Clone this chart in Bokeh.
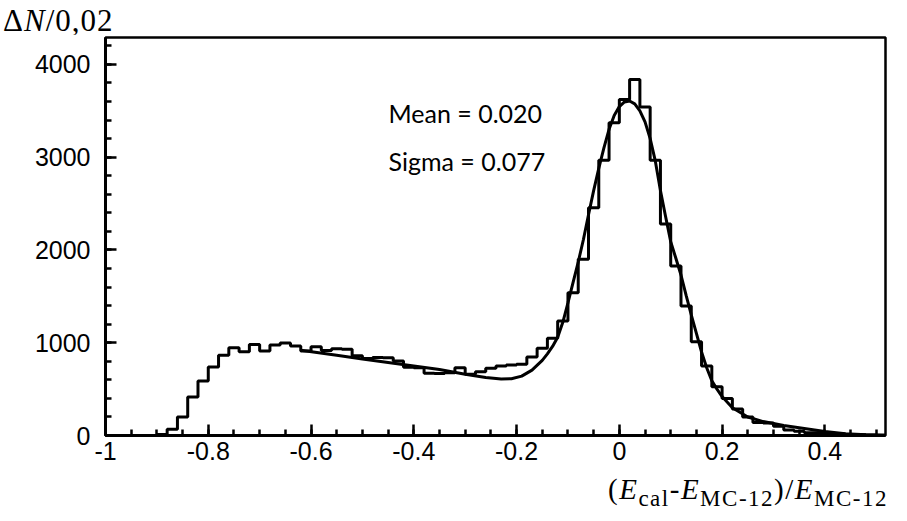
from bokeh.plotting import figure
from bokeh.models import Label, FixedTicker, Range1d, Div
from bokeh.layouts import column
from bokeh.embed import file_html
from bokeh.resources import INLINE

# ---------------- data ----------------
bin_start = -0.90
bin_width = 0.02
counts = [12, 67, 199, 415, 587, 738, 864, 946, 903, 982,
          910, 975, 997, 966, 912, 957, 915, 935, 930, 860,
          830, 842, 838, 803, 735, 730, 670, 668, 677, 731,
          660, 688, 724, 749, 760, 767, 846, 940, 1047, 1234,
          1540, 1900, 2455, 2966, 3371, 3623, 3838, 3540, 2966, 2279,
          1826, 1395, 1010, 749, 525, 400, 285, 200, 140, 135,
          100, 60, 45, 30, 30, 20, 15, 10, 8, 5, 3]

fit_x = [-0.62, -0.55, -0.50, -0.45, -0.40, -0.35, -0.30, -0.26, -0.23, -0.21,
         -0.19, -0.17, -0.15, -0.14, -0.13, -0.12, -0.11, -0.10, -0.09, -0.08,
         -0.07, -0.06, -0.05, -0.04, -0.03, -0.02, -0.01, 0.00, 0.01, 0.02,
         0.03, 0.04, 0.05, 0.06, 0.07, 0.08, 0.09, 0.10, 0.11, 0.12,
         0.13, 0.14, 0.15, 0.16, 0.17, 0.18, 0.19, 0.20, 0.22, 0.25,
         0.28, 0.32, 0.36, 0.40, 0.44, 0.48, 0.518]
fit_y = [920, 865, 825, 788, 750, 712, 660, 625, 610, 612,
         640, 705, 810, 880, 960, 1060, 1220, 1430, 1650, 1870,
         2110, 2380, 2640, 2880, 3100, 3300, 3450, 3545, 3595, 3605,
         3575, 3500, 3380, 3200, 2960, 2640, 2360, 2090, 1910, 1730,
         1510, 1300, 1100, 900, 730, 590, 500, 420, 300, 200,
         150, 108, 75, 42, 18, 8, 4]

x_major = [-1.0, -0.8, -0.6, -0.4, -0.2, 0.0, 0.2, 0.4]
x_major_labels = ["-1", "-0.8", "-0.6", "-0.4", "-0.2", "0", "0.2", "0.4"]
x_minor = [-1.0, -0.95, -0.9, -0.85, -0.8, -0.75, -0.7, -0.65, -0.6, -0.55, -0.5,
           -0.45, -0.4, -0.35, -0.3, -0.25, -0.2, -0.15, -0.1, -0.05, 0.0,
           0.05, 0.1, 0.15, 0.2, 0.25, 0.3, 0.35, 0.4, 0.45, 0.5]
y_major = [0, 1000, 2000, 3000, 4000]
y_minor = [0, 200, 400, 600, 800, 1000, 1200, 1400, 1600, 1800, 2000, 2200, 2400,
           2600, 2800, 3000, 3200, 3400, 3600, 3800, 4000, 4200]

stat_lines = ["Mean = 0.020", "Sigma = 0.077"]

# ---------------- layout ----------------
W, H = 907, 521
TOP_H = 34          # header strip holding the y title
BOT_H = 46          # footer strip holding the x title
FIG_H = H - TOP_H - BOT_H
FL, FR = 105, 885   # frame left/right (page px)
FT, FB = 37, 435    # frame top/bottom (page px)
X0, X1 = -1.0, 0.518
Y0, Y1 = 0, 4290


def dx(px):
    return X0 + (px - FL) * (X1 - X0) / (FR - FL)


def dy(py):
    return Y0 + (FB - py) * (Y1 - Y0) / (FB - FT)


p = figure(width=W, height=FIG_H, output_backend="svg", toolbar_location=None,
           x_range=Range1d(X0, X1), y_range=Range1d(Y0, Y1),
           min_border_left=FL, min_border_right=W - FR,
           min_border_top=FT - TOP_H, min_border_bottom=TOP_H + FIG_H - FB,
           margin=(0, 0, 0, 0))
p.background_fill_color = "white"
p.border_fill_color = "white"
p.outline_line_color = "black"
p.outline_line_width = 2.5
p.xgrid.visible = False
p.ygrid.visible = False

# axes
for ax in (p.xaxis[0], p.yaxis[0]):
    ax.axis_line_width = 3
    ax.axis_line_color = "black"
    ax.major_tick_line_width = 2.5
    ax.minor_tick_line_width = 2.5
    ax.major_tick_line_color = "black"
    ax.minor_tick_line_color = "black"
    ax.major_tick_in = 11
    ax.major_tick_out = 0
    ax.minor_tick_in = 6
    ax.minor_tick_out = 0
    ax.major_label_text_font = "Liberation Sans"
    ax.major_label_text_font_size = "25px"
    ax.major_label_text_color = "black"

p.xaxis[0].ticker = FixedTicker(ticks=x_major, minor_ticks=x_minor)
p.xaxis[0].major_label_overrides = {v: s for v, s in zip(x_major, x_major_labels)}
p.xaxis[0].major_label_standoff = 6
p.yaxis[0].ticker = FixedTicker(ticks=y_major, minor_ticks=y_minor)
p.yaxis[0].major_label_overrides = {v: str(v) for v in y_major}
p.yaxis[0].major_label_standoff = 15

# histogram as step outline
edges = [round(bin_start + i * bin_width, 4) for i in range(len(counts) + 1)]
hx = [edges[0]] + edges
hy = [0] + counts + [0]
p.step(hx, hy, mode="after", line_color="black", line_width=3)

# fit curve
p.line(fit_x, fit_y, line_color="black", line_width=3)

# statistics text inside the frame
for txt, base in zip(stat_lines, [112, 160]):
    p.add_layout(Label(x=dx(388), y=dy(base), text=txt, text_font="Lato",
                       text_font_size="25px", text_color="black",
                       text_baseline="alphabetic", text_align="left"))

# ---------------- axis titles (rich text) ----------------
serif = "Liberation Serif, Times New Roman, serif"
top_html = (
    f'<div style="padding-left:3px; padding-top:5px; font-family:{serif}; '
    f'font-size:31px; line-height:1; letter-spacing:1px; white-space:nowrap; color:black">'
    'Δ<i>N</i>/0,02</div>'
)
sub = 'style="font-size:23px; vertical-align:-7px; line-height:0"'
bot_html = (
    f'<div style="padding-left:608px; padding-top:0px; font-family:{serif}; '
    f'font-size:29px; line-height:1; letter-spacing:1.5px; white-space:nowrap; color:black">'
    f'(<i>E</i><span {sub}>cal</span>-<i>E</i><span {sub}>MC-12</span>)/'
    f'<i>E</i><span {sub}>MC-12</span></div>'
)
top_div = Div(text=top_html, width=W, height=TOP_H, margin=(0, 0, 0, 0))
bot_div = Div(text=bot_html, width=W, height=BOT_H, margin=(0, 0, 0, 0))

layout = column(top_div, p, bot_div, spacing=0, margin=(0, 0, 0, 0))

open("out.html", "w").write(file_html(layout, INLINE))
